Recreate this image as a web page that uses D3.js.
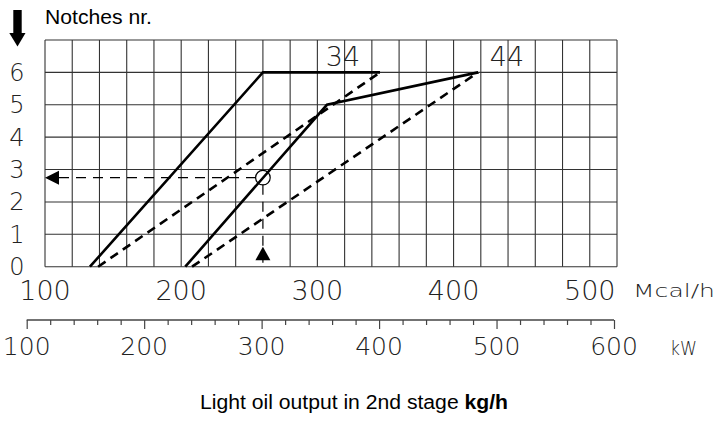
<html>
<script src='https://d3js.org/d3.v7.min.js'></script>
<style>
body {margin:0; background:#fff;}
.num {font-family:"DejaVu Sans", sans-serif; font-weight:200; fill:#222;}
.lbl {font-family:"Liberation Sans", Arial, sans-serif; fill:#000;}
</style>
<body onload='init()'>
<svg width=717 height=426></svg>
<script>
// power scale (Mcal/h) and notches
var mcalTicks = [100, 200, 300, 400, 500];
var kwTicks = [100, 200, 300, 400, 500, 600];
var notchTicks = [0, 1, 2, 3, 4, 5, 6];
var gridMcal = d3.range(100, 521, 20);
var gridNotch = d3.range(0, 8, 1);

// curves: [Mcal/h, notches]
var curve34Solid = [[133, 0], [260, 6], [346, 6]];
var curve34Dashed = [[139, 0], [346, 6]];
var curve44Solid = [[203, 0], [307, 5], [418, 6]];
var curve44Dashed = [[208, 0], [418, 6]];
var curveLabels = [["34", 343], ["44", 507]];

// reading example
var pointMcal = 260;
var pointNotch = 2.75;

function init() {
  var svg = d3.select('svg');
  var x = d3.scaleLinear().domain([100, 520]).range([45, 617]);
  var y = d3.scaleLinear().domain([0, 7]).range([266.7, 40]);
  var xk = d3.scaleLinear().domain([100, 600]).range([26.7, 614]);

  // grid
  var grid = svg.append('g').attr('stroke', '#333').attr('stroke-width', 1.1);
  grid.selectAll('.v').data(gridMcal).enter().append('line')
    .attr('x1', d => x(d)).attr('x2', d => x(d))
    .attr('y1', y(7)).attr('y2', d => d === pointMcal ? y(3) : y(0));
  grid.selectAll('.h').data(gridNotch).enter().append('line')
    .attr('y1', d => y(d)).attr('y2', d => y(d))
    .attr('x1', x(100)).attr('x2', x(520));

  // notch labels
  svg.append('g').selectAll('text').data(notchTicks).enter().append('text')
    .attr('class', 'num').attr('x', 17).attr('y', d => y(d) + 8.5)
    .attr('text-anchor', 'middle').attr('font-size', 24).text(d => d);

  // Mcal/h labels
  svg.append('g').selectAll('text').data(mcalTicks).enter().append('text')
    .attr('class', 'num').attr('x', d => x(d)).attr('y', 300)
    .attr('text-anchor', 'middle').attr('font-size', 27).text(d => d);
  svg.append('text').attr('class', 'num').attr('x', 633).attr('y', 297)
    .attr('font-size', 18).attr('textLength', 82).attr('lengthAdjust', 'spacingAndGlyphs')
    .text('Mcal/h');

  // kW axis
  var ka = svg.append('g').attr('transform', 'translate(0,320)');
  ka.call(d3.axisBottom(xk).tickValues(d3.range(100, 601, 20)).tickSize(5).tickFormat(''));
  ka.select('.domain').attr('d', 'M' + xk(100) + ',0H' + xk(600)).attr('stroke', '#444').attr('stroke-width', 1.3);
  ka.selectAll('.tick line').attr('stroke', '#444').attr('stroke-width', 1.2)
    .attr('y2', d => d % 100 === 0 ? 9 : 5);
  svg.append('g').selectAll('text').data(kwTicks).enter().append('text')
    .attr('class', 'num').attr('x', d => xk(d)).attr('y', 355)
    .attr('text-anchor', 'middle').attr('font-size', 25).text(d => d);
  svg.append('text').attr('class', 'num').attr('x', 670).attr('y', 355)
    .attr('font-size', 20).attr('textLength', 27).attr('lengthAdjust', 'spacingAndGlyphs')
    .text('kW');

  // curves
  var line = d3.line().x(d => x(d[0])).y(d => y(d[1]));
  var cg = svg.append('g').attr('fill', 'none').attr('stroke', '#000').attr('stroke-width', 2.6);
  [curve34Solid, curve44Solid].forEach(function(c) {
    cg.append('path').attr('d', line(c));
  });
  [curve34Dashed, curve44Dashed].forEach(function(c) {
    cg.append('path').attr('d', line(c)).attr('stroke-dasharray', '9,6');
  });
  svg.append('g').selectAll('text').data(curveLabels).enter().append('text')
    .attr('class', 'num').attr('x', d => d[1]).attr('y', 66)
    .attr('text-anchor', 'middle').attr('font-size', 27).text(d => d[0]);

  // reading example
  var ig = svg.append('g').attr('stroke', '#000').attr('stroke-width', 1.2).attr('fill', 'none');
  ig.append('line').attr('x1', x(100) + 14).attr('x2', x(pointMcal) - 7)
    .attr('y1', y(pointNotch)).attr('y2', y(pointNotch)).attr('stroke-dasharray', '10,7');
  ig.append('line').attr('x1', x(pointMcal)).attr('x2', x(pointMcal))
    .attr('y1', y(3)).attr('y2', y(pointNotch) - 7).attr('stroke-dasharray', '7,6');
  ig.append('line').attr('x1', x(pointMcal)).attr('x2', x(pointMcal))
    .attr('y1', y(pointNotch) + 7).attr('y2', y(0)).attr('stroke-dasharray', '10,7');
  ig.append('circle').attr('cx', x(pointMcal)).attr('cy', y(pointNotch)).attr('r', 7.3);
  var px = x(100), py = y(pointNotch);
  svg.append('path').attr('d', 'M' + px + ',' + py + 'L' + (px + 14) + ',' + (py - 7) + 'L' + (px + 14) + ',' + (py + 7) + 'Z');
  var ax = x(pointMcal), ay = y(0) - 20;
  svg.append('path').attr('d', 'M' + ax + ',' + ay + 'L' + (ax - 7.5) + ',' + (ay + 13.5) + 'L' + (ax + 7.5) + ',' + (ay + 13.5) + 'Z');

  // top-left arrow and title
  svg.append('rect').attr('x', 13.3).attr('y', 10).attr('width', 8.4).attr('height', 23);
  svg.append('path').attr('d', 'M9.3,33L25.5,33L17.5,46.5Z');
  svg.append('text').attr('class', 'lbl').attr('x', 45).attr('y', 24)
    .attr('font-size', 20).attr('textLength', 107).attr('lengthAdjust', 'spacingAndGlyphs')
    .text('Notches nr.');

  // bottom caption
  var cap = svg.append('text').attr('class', 'lbl').attr('x', 200).attr('y', 409)
    .attr('font-size', 20).attr('textLength', 308).attr('lengthAdjust', 'spacingAndGlyphs');
  cap.append('tspan').text('Light oil output in 2nd stage ');
  cap.append('tspan').attr('font-weight', 'bold').text('kg/h');
}
</script>
</body>
</html>
